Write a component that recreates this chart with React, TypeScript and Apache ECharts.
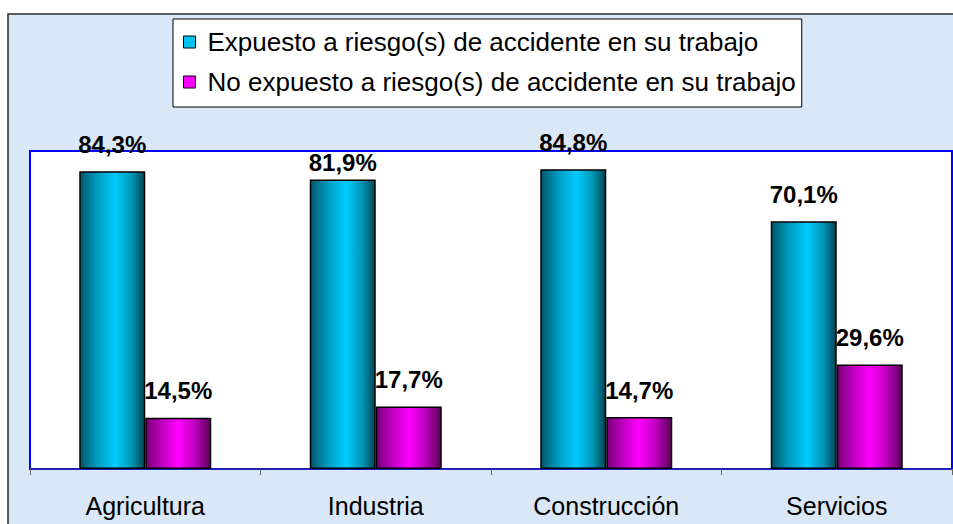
import React, { useEffect, useRef } from "react";
import * as echarts from "echarts";

const categories = ["Agricultura", "Industria", "Construcción", "Servicios"];
const seriesNames = [
  "Expuesto a riesgo(s) de accidente en su trabajo",
  "No expuesto a riesgo(s) de accidente en su trabajo",
];
const expuesto = [84.3, 81.9, 84.8, 70.1];
const noExpuesto = [14.5, 17.7, 14.7, 29.6];

const FONT = "'Liberation Sans', Arial, sans-serif";

const fmt = (v: number) => v.toFixed(1).replace(".", ",") + "%";

export default function App() {
  const ref = useRef<HTMLDivElement>(null);
  useEffect(() => {
    if (!ref.current) return;
    const chart = echarts.init(ref.current, null, { renderer: "svg" });
    const cyan = new echarts.graphic.LinearGradient(0, 0, 1, 0, [
      { offset: 0, color: "#00566a" },
      { offset: 0.25, color: "#0098ba" },
      { offset: 0.55, color: "#00ccff" },
      { offset: 0.8, color: "#0096b6" },
      { offset: 1, color: "#004656" },
    ]);
    const magenta = new echarts.graphic.LinearGradient(0, 0, 1, 0, [
      { offset: 0, color: "#780078" },
      { offset: 0.25, color: "#c000c0" },
      { offset: 0.5, color: "#ff00ff" },
      { offset: 0.75, color: "#c000c0" },
      { offset: 1, color: "#5a005a" },
    ]);
    const labelBase = {
      show: true,
      position: "top",
      distance: 15,
      color: "#000",
      fontWeight: "bold",
      fontSize: 24,
      fontFamily: FONT,
      formatter: (p: any) => fmt(p.value),
    };
    chart.setOption({
      animation: false,
      graphic: [
        {
          type: "rect",
          z: -100,
          shape: { x: 8, y: 14, width: 1000, height: 600 },
          style: { fill: "#dae7f6", stroke: "#2a2a2a", lineWidth: 1.5 },
        },
      ],
      grid: {
        left: 30,
        top: 151,
        right: 1,
        bottom: 55,
        show: true,
        backgroundColor: "#ffffff",
        borderColor: "#0000ff",
        borderWidth: 2,
      },
      legend: {
        left: 173,
        top: 19,
        orient: "vertical",
        backgroundColor: "#ffffff",
        borderColor: "#000000",
        borderWidth: 1,
        padding: [10, 6, 12, 10],
        itemGap: 14,
        itemWidth: 12,
        itemHeight: 12,
        icon: "rect",
        textStyle: { fontSize: 26, fontFamily: FONT, color: "#000", padding: [0, 0, 0, 7] },
        data: [
          { name: seriesNames[0], itemStyle: { color: "#00c4f0", borderColor: "#000", borderWidth: 1 } },
          { name: seriesNames[1], itemStyle: { color: "#ff00ff", borderColor: "#000", borderWidth: 1 } },
        ],
      },
      xAxis: {
        type: "category",
        data: categories,
        axisLine: { show: true, lineStyle: { color: "#2a2aa0", width: 1.5 } },
        axisTick: { show: true, length: 6, lineStyle: { color: "#666" } },
        axisLabel: { fontSize: 25, fontFamily: FONT, color: "#000", margin: 24 },
      },
      yAxis: {
        type: "value",
        min: 0,
        max: 90,
        show: false,
        splitLine: { show: false },
      },
      series: [
        {
          name: seriesNames[0],
          type: "bar",
          barWidth: 66,
          barGap: "0%",
          itemStyle: { color: cyan, borderColor: "#000", borderWidth: 1.5 },
          label: labelBase,
          data: expuesto.map((v, i) =>
            i === 1 ? { value: v, label: { distance: 5 } } : { value: v }
          ),
        },
        {
          name: seriesNames[1],
          type: "bar",
          barWidth: 66,
          barGap: "0%",
          itemStyle: { color: magenta, borderColor: "#000", borderWidth: 1.5 },
          label: labelBase,
          data: noExpuesto,
        },
      ],
    });
    return () => chart.dispose();
  }, []);
  return (
    <div
      ref={ref}
      style={{
        position: "fixed",
        left: 0,
        top: 0,
        width: 953,
        height: 524,
        background: "#ffffff",
        overflow: "hidden",
      }}
    />
  );
}
